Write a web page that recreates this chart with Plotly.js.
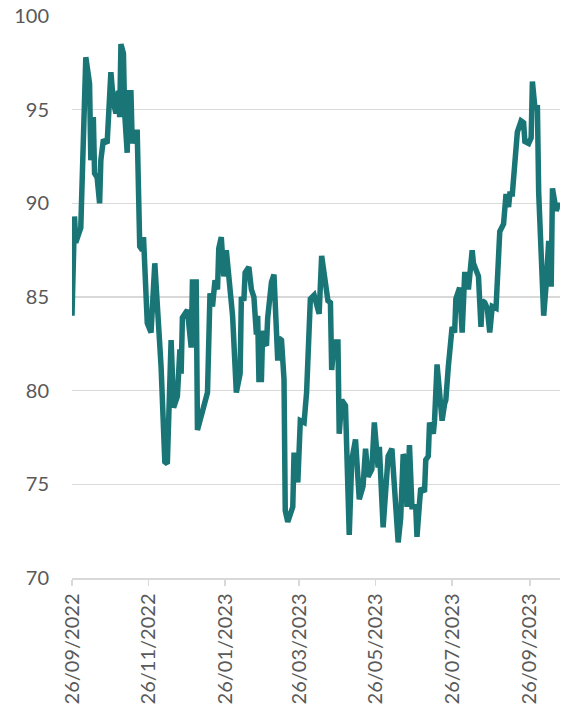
<!DOCTYPE html>
<html>
<head>
<meta charset="utf-8">
<script src="https://cdn.plot.ly/plotly-3.0.1.min.js"></script>
<style>html,body{margin:0;padding:0;background:#fff;}#chart{width:568px;height:712px;}</style>
</head>
<body>
<div id="chart"></div>
<script>
const dates = [
"2022-09-26","2022-09-28","2022-09-29","2022-10-03","2022-10-07","2022-10-10","2022-10-11","2022-10-13","2022-10-14","2022-10-16",
"2022-10-18","2022-10-19","2022-10-21","2022-10-24","2022-10-27","2022-10-29","2022-10-31","2022-11-02","2022-11-03","2022-11-04",
"2022-11-06","2022-11-07","2022-11-09","2022-11-10","2022-11-12","2022-11-13","2022-11-15","2022-11-17","2022-11-19","2022-11-21",
"2022-11-22","2022-11-24","2022-11-25","2022-11-28","2022-12-01","2022-12-04","2022-12-06","2022-12-09","2022-12-11","2022-12-14",
"2022-12-16","2022-12-19","2022-12-21","2022-12-22","2022-12-23","2022-12-27","2022-12-30","2022-12-31","2023-01-03","2023-01-04",
"2023-01-07","2023-01-12","2023-01-14","2023-01-16","2023-01-18","2023-01-20","2023-01-21","2023-01-23","2023-01-25","2023-01-27",
"2023-02-01","2023-02-04","2023-02-07","2023-02-08","2023-02-10","2023-02-11","2023-02-14","2023-02-16","2023-02-18","2023-02-19",
"2023-02-20","2023-02-21","2023-02-22","2023-02-24","2023-02-25","2023-02-27","2023-02-28","2023-03-01","2023-03-04","2023-03-06",
"2023-03-08","2023-03-09","2023-03-10","2023-03-12","2023-03-14","2023-03-15","2023-03-17","2023-03-21","2023-03-22","2023-03-25",
"2023-03-27","2023-03-30","2023-04-01","2023-04-04","2023-04-07","2023-04-11","2023-04-13","2023-04-15","2023-04-18","2023-04-20",
"2023-04-21","2023-04-23","2023-04-26","2023-04-27","2023-04-29","2023-05-02","2023-05-05","2023-05-07","2023-05-10","2023-05-13",
"2023-05-16","2023-05-18","2023-05-20","2023-05-23","2023-05-25","2023-05-28","2023-05-29","2023-06-01","2023-06-05","2023-06-08",
"2023-06-11","2023-06-13","2023-06-15","2023-06-17","2023-06-19","2023-06-20","2023-06-22","2023-06-24","2023-06-27","2023-06-28",
"2023-06-30","2023-07-01","2023-07-04","2023-07-05","2023-07-07","2023-07-08","2023-07-11","2023-07-12","2023-07-14","2023-07-16",
"2023-07-18","2023-07-20","2023-07-21","2023-07-23","2023-07-26","2023-07-28","2023-07-29","2023-08-01","2023-08-03","2023-08-05",
"2023-08-07","2023-08-08","2023-08-11","2023-08-12","2023-08-14","2023-08-16","2023-08-18","2023-08-19","2023-08-21","2023-08-23",
"2023-08-25","2023-08-27","2023-08-30","2023-08-31","2023-09-02","2023-09-05","2023-09-07","2023-09-09","2023-09-10","2023-09-12",
"2023-09-14","2023-09-16","2023-09-19","2023-09-21","2023-09-22","2023-09-25","2023-09-27","2023-09-28","2023-09-30","2023-10-02",
"2023-10-03","2023-10-07","2023-10-09","2023-10-11","2023-10-12","2023-10-13","2023-10-14","2023-10-16","2023-10-17","2023-10-19",
"2023-10-20"
];
const values = [
84.0,89.3,87.9,88.7,97.8,96.4,92.3,94.6,91.6,91.4,
90.0,92.3,93.4,93.2,97.0,95.4,94.8,96.0,94.6,98.5,
98.0,94.8,92.7,95.9,95.9,93.2,93.8,93.8,87.7,87.5,
88.2,85.4,83.6,83.1,86.8,83.5,81.3,76.2,76.1,82.7,
79.1,79.7,82.2,80.9,83.9,84.3,82.3,85.8,85.8,77.9,
78.6,79.9,85.2,84.5,85.9,85.4,87.6,88.2,86.1,87.5,
84.0,79.9,80.9,85.0,84.8,86.3,86.6,85.4,85.0,83.0,
83.0,84.0,80.6,80.6,83.2,82.5,82.4,83.9,85.8,86.2,
83.1,81.6,82.8,82.7,80.6,73.6,73.0,73.8,76.7,75.1,
78.4,78.3,79.9,84.9,85.1,84.1,87.2,86.3,84.8,84.7,
81.1,82.6,82.6,77.7,79.5,79.2,72.3,76.3,77.4,74.2,
74.9,76.9,75.4,75.8,78.3,75.9,77.0,72.7,76.5,76.9,
74.2,71.9,73.2,76.6,76.3,73.8,77.1,73.8,73.8,72.2,
74.0,74.8,74.6,76.3,76.5,78.3,77.7,78.4,81.4,79.8,
78.4,79.3,79.5,81.3,83.4,83.1,84.9,85.5,83.1,86.2,
86.2,85.4,87.5,86.8,86.4,86.1,83.4,84.8,84.7,84.4,
83.1,84.5,84.4,85.5,88.5,88.9,90.5,89.8,90.5,90.5,
91.9,93.8,94.4,94.3,93.3,93.2,93.5,96.5,95.1,95.1,
90.6,84.0,85.7,88.0,85.7,85.7,90.8,90.0,89.6,90.0,
89.8
];
const xTickVals = ["2022-09-26","2022-11-26","2023-01-26","2023-03-26","2023-05-26","2023-07-26","2023-09-26"];
const xTickText = ["26/09/2022","26/11/2022","26/01/2023","26/03/2023","26/05/2023","26/07/2023","26/09/2023"];
const yTickVals = [70,75,80,85,90,95,100];

const trace = {
  x: dates, y: values, type: 'scatter', mode: 'lines',
  line: {color: '#1a7676', width: 5.5}, hoverinfo: 'skip'
};
const font = {family: 'Lato, "Open Sans", sans-serif', size: 20, color: '#595959'};
const layout = {
  width: 568, height: 712,
  margin: {l: 72, r: 8, t: 16, b: 134},
  paper_bgcolor: '#fff', plot_bgcolor: '#fff',
  showlegend: false,
  font: font,
  xaxis: {
    type: 'date', range: ['2022-09-26', '2023-10-20'],
    tickmode: 'array', tickvals: xTickVals, ticktext: xTickText,
    tickangle: -90, ticks: 'outside', ticklen: 6, tickwidth: 1.5, tickcolor: '#d9d9d9',
    showline: true, linecolor: '#d9d9d9', linewidth: 1.5,
    showgrid: false, zeroline: false, tickfont: font
  },
  yaxis: {
    range: [70, 100], tickmode: 'array', tickvals: yTickVals,
    showgrid: true, gridcolor: '#d9d9d9', gridwidth: 1.5,
    zeroline: false, showline: false, ticks: '', ticklabelstandoff: 22,
    tickfont: font
  }
};
Plotly.newPlot('chart', [trace], layout, {displayModeBar: false, staticPlot: true});
</script>
</body>
</html>
